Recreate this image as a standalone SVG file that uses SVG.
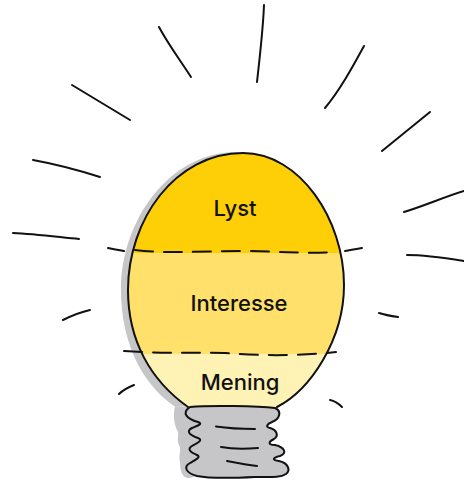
<svg xmlns="http://www.w3.org/2000/svg" width="464" height="481" viewBox="0 0 464 481">
  <style>
    .ink { fill: none; stroke: #111; stroke-width: 2; stroke-linecap: round; stroke-linejoin: round; }
    .dash { fill: none; stroke: #111; stroke-width: 2; stroke-linecap: round; stroke-dasharray: 18 11; }
    .label { font-family: "Inter", "Liberation Sans", sans-serif; font-size: 22px; font-weight: 500; fill: #111; text-anchor: middle; }
  </style>
  <defs>
    <clipPath id="glass">
      <path d="M188 407C150 380 128 340 128 290C128 220 175 153 243 153C300 153 344 220 344 285C344 340 310 390 277 407Z"/>
    </clipPath>
  </defs>
  <rect width="464" height="481" fill="#fff"/>

  <g id="shadow" fill="#c6c6c8">
    <path d="M174 406C140 382 121 340 121 290C121 220 170 151 238 152C243 153 243 160 240 165C190 200 160 300 195 407Z"/>
    <path d="M175 406L200 408L215 470L190 478C182 479 180 470 180 462C178 456 182 450 179 445C176 440 180 434 177 430C174 424 173 414 175 406Z"/>
  </g>

  <g id="bulb">
    <g clip-path="url(#glass)">
      <rect id="band-lyst" x="120" y="150" width="230" height="103" fill="#fecf06"/>
      <rect id="band-interesse" x="120" y="253" width="230" height="101" fill="#fee06a"/>
      <rect id="band-mening" x="120" y="354" width="230" height="56" fill="#fef2b4"/>
    </g>
    <path class="ink" d="M188 407C150 380 128 340 128 290C128 220 175 153 243 153C300 153 344 220 344 285C344 340 310 390 277 407"/>
    <path class="dash" d="M135 250C170 254 200 251 240 251C275 251 300 254 335 252"/>
    <path class="dash" d="M124 351C170 354 190 352 225 353C260 356 300 356 336 352"/>
  </g>

  <g id="base">
    <path d="M190 407C210 405 258 406 275 408C282 411 280 419 272 422C267 424 265 427 270 428C277 430 279 436 274 439C268 442 268 445 275 445C284 447 288 453 280 456C272 458 272 460 279 461C288 463 291 470 286 474C280 478 270 477 255 477C235 478 212 479 197 476C186 473 183 467 190 463C197 459 201 457 197 455C190 452 187 449 192 446C199 442 203 440 198 438C189 435 186 431 192 428C199 425 203 424 198 422C187 419 181 413 190 407Z" fill="#c6c6c8" stroke="#111" stroke-width="2" stroke-linejoin="round"/>
    <path class="ink" d="M216 426.500C226 428 240 429 255 429"/>
    <path class="ink" d="M221 447C232 449 245 449 258 448"/>
    <path class="ink" d="M227 461C237 463 247 465 257 466"/>
  </g>

  <g id="labels">
    <text class="label" x="235" y="216">Lyst</text>
    <text class="label" x="239" y="311">Interesse</text>
    <text class="label" x="240" y="390">Mening</text>
  </g>

  <g id="rays">
    <path class="ink" d="M264 5C263 30 260 55 257 82"/>
    <path class="ink" d="M159 27C168 44 180 60 191 77"/>
    <path class="ink" d="M364 46C352 68 340 90 325 108"/>
    <path class="ink" d="M72 85C90 96 110 108 130 120"/>
    <path class="ink" d="M430 112C414 125 398 138 382 151"/>
    <path class="ink" d="M33 160C55 164 78 170 100 177"/>
    <path class="ink" d="M464 191C444 197 424 206 404 212"/>
    <path class="ink" d="M13 233C35 234 58 237 79 239"/>
    <path class="ink" d="M407 255C426 255 445 258 464 261"/>
    <path class="ink" d="M108 248C112 249 118 250 124 251"/>
    <path class="ink" d="M345 251C350 250 356 249 362 248"/>
    <path class="ink" d="M63 320C71 316 81 312 90 310"/>
    <path class="ink" d="M379 313C385 315 391 316 398 317"/>
    <path class="ink" d="M119 394C123 390 129 387 134 385"/>
    <path class="ink" d="M330 400C335 401 339 404 342 407"/>
  </g>
</svg>
